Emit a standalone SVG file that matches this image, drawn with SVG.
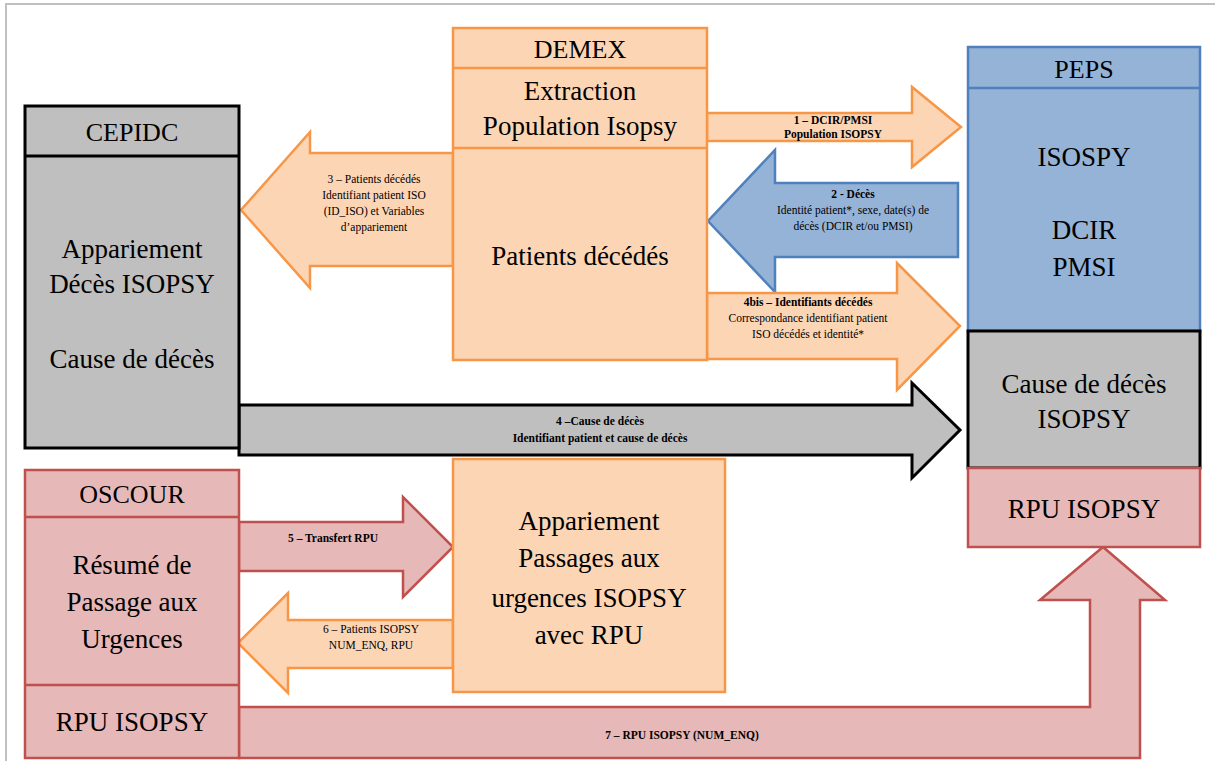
<svg xmlns="http://www.w3.org/2000/svg" width="1215" height="761" viewBox="0 0 1215 761" font-family="Liberation Serif, Times New Roman, serif">
<style>
.or{fill:#fcd5b5;stroke:#f79646;stroke-width:2.5}
.bl{fill:#95b3d7;stroke:#4f81bd;stroke-width:2.5}
.gr{fill:#bfbfbf;stroke:#000;stroke-width:3}
.rd{fill:#e6b9b8;stroke:#c0504d;stroke-width:2.5}
text{fill:#000;text-anchor:middle}
.big{font-size:27px}
.hd{font-size:26px}
.sm{font-size:11.5px}
.b{font-weight:bold}
</style>
<rect width="1215" height="761" fill="#fff"/>
<path d="M6,761 V4 H1215" fill="none" stroke="#c0c0c0" stroke-width="2"/>
<g id="connectors">
<polygon class="or" points="707,113 912,113 912,87 961,127 912,167 912,141 707,141"/>
<polygon class="bl" points="958,183 775,183 775,150 708,221 775,292 775,257 958,257"/>
<polygon class="or" points="453,153 310,153 310,132 241,210 310,288 310,266 453,266"/>
<polygon class="or" points="707,293 897,293 897,263 960,326 897,390 897,359 707,359"/>
<polygon class="gr" points="239,405 912,405 912,383 960,430 912,478 912,455 239,455"/>
<polygon class="rd" points="239,522 403,522 403,497 453,547 403,597 403,571 239,571"/>
<polygon class="or" points="453,620 288,620 288,593 238,643 288,693 288,668 453,668"/>
<polygon class="rd" points="239,707 1090,707 1090,600 1040,600 1103,547 1165,600 1140,600 1140,758 239,758"/>
<text class="sm b" x="833" y="124">1 – DCIR/PMSI</text>
<text class="sm b" x="833" y="138">Population ISOPSY</text>
<text class="sm b" x="853" y="198">2 -  Décès</text>
<text class="sm" x="853" y="214">Identité patient*, sexe, date(s) de</text>
<text class="sm" x="853" y="230">décès (DCIR et/ou PMSI)</text>
<text class="sm" x="374" y="183">3 – Patients décédés</text>
<text class="sm" x="374" y="199">Identifiant patient ISO</text>
<text class="sm" x="374" y="215">(ID_ISO) et Variables</text>
<text class="sm" x="374" y="231">d’appariement</text>
<text class="sm b" x="808" y="306">4bis – Identifiants décédés</text>
<text class="sm" x="808" y="322">Correspondance identifiant patient</text>
<text class="sm" x="808" y="338">ISO décédés et identité*</text>
<text class="sm b" x="600" y="425">4 –Cause de décès</text>
<text class="sm b" x="600" y="442">Identifiant patient et cause de décès</text>
<text class="sm b" x="333" y="542">5 –  Transfert RPU</text>
<text class="sm" x="371" y="633">6 – Patients ISOPSY</text>
<text class="sm" x="371" y="649">NUM_ENQ, RPU</text>
<text class="sm b" x="682" y="739">7 – RPU ISOPSY (NUM_ENQ)</text>
</g>
<g id="cepidc">
<rect class="gr" x="25" y="106" width="214" height="342"/>
<line x1="25" y1="156" x2="239" y2="156" stroke="#000" stroke-width="3"/>
<text class="hd" x="132" y="141">CEPIDC</text>
<text class="big" x="132" y="258">Appariement</text>
<text class="big" x="132" y="293">Décès ISOPSY</text>
<text class="big" x="132" y="368">Cause de décès</text>
</g>
<g id="demex">
<rect class="or" x="453" y="28" width="254" height="332"/>
<line x1="453" y1="68" x2="707" y2="68" stroke="#f79646" stroke-width="2.5"/>
<line x1="453" y1="148" x2="707" y2="148" stroke="#f79646" stroke-width="2.5"/>
<text class="hd" x="580" y="58">DEMEX</text>
<text class="big" x="580" y="100">Extraction</text>
<text class="big" x="580" y="135">Population Isopsy</text>
<text class="big" x="580" y="265">Patients décédés</text>
</g>
<g id="peps">
<rect class="bl" x="968" y="47" width="232" height="284"/>
<line x1="968" y1="88" x2="1200" y2="88" stroke="#4f81bd" stroke-width="2.5"/>
<text class="hd" x="1084" y="78">PEPS</text>
<text class="big" x="1084" y="166">ISOSPY</text>
<text class="big" x="1084" y="239">DCIR</text>
<text class="big" x="1084" y="276">PMSI</text>
</g>
<g id="peps-cause">
<rect class="gr" x="968" y="331" width="232" height="137" stroke-width="2.5"/>
<text class="big" x="1084" y="393">Cause de décès</text>
<text class="big" x="1084" y="428">ISOPSY</text>
</g>
<g id="peps-rpu">
<rect class="rd" x="968" y="468" width="232" height="79"/>
<text class="big" x="1084" y="518">RPU ISOPSY</text>
</g>
<g id="oscour">
<rect class="rd" x="25" y="470" width="214" height="288"/>
<line x1="25" y1="517" x2="239" y2="517" stroke="#c0504d" stroke-width="2.5"/>
<line x1="25" y1="685" x2="239" y2="685" stroke="#c0504d" stroke-width="2.5"/>
<text class="hd" x="132" y="503">OSCOUR</text>
<text class="big" x="132" y="574">Résumé de</text>
<text class="big" x="132" y="611">Passage aux</text>
<text class="big" x="132" y="648">Urgences</text>
<text class="big" x="132" y="731">RPU ISOPSY</text>
</g>
<g id="appariement-rpu">
<rect class="or" x="453" y="459" width="272" height="233"/>
<text class="big" x="589" y="530">Appariement</text>
<text class="big" x="589" y="567">Passages aux</text>
<text class="big" x="589" y="607">urgences ISOPSY</text>
<text class="big" x="589" y="644">avec RPU</text>
</g>
</svg>
